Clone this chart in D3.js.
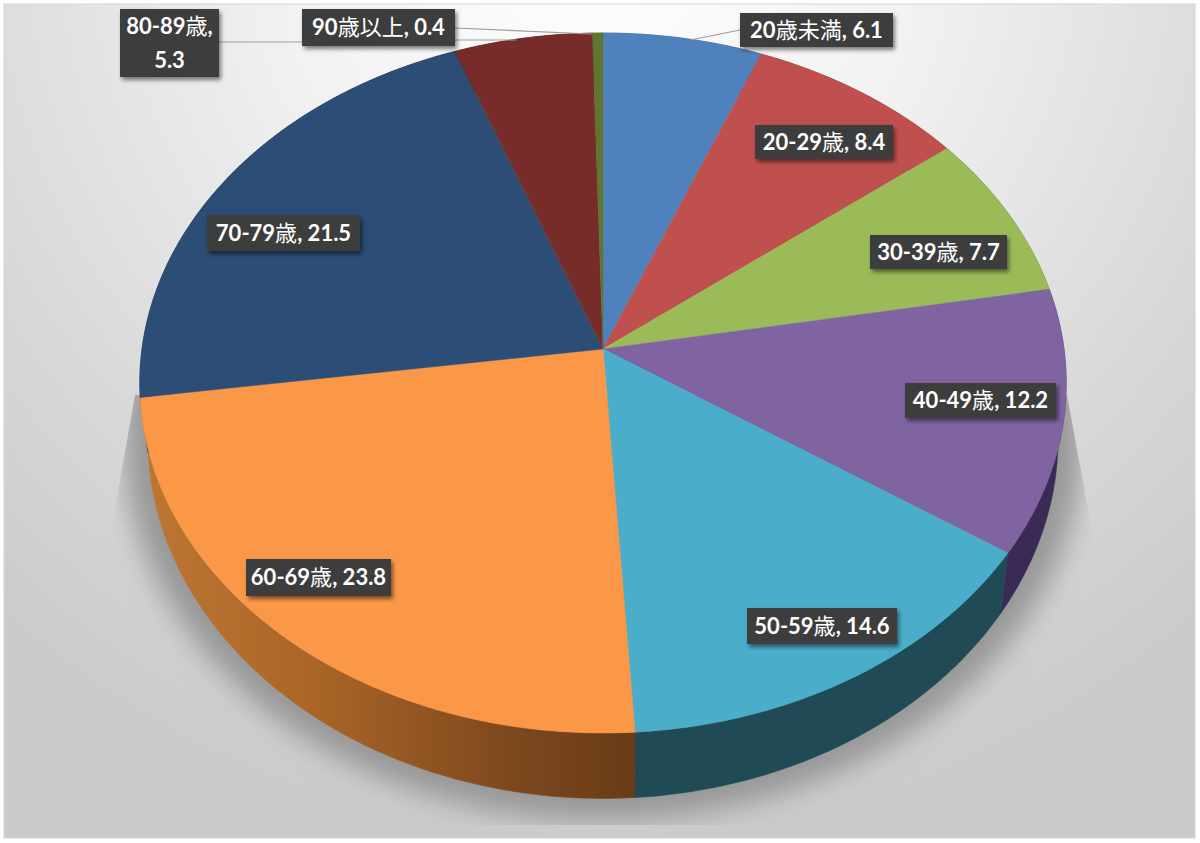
<!DOCTYPE html>
<html>
<head>
<meta charset="utf-8">
<script src="https://cdn.jsdelivr.net/npm/d3@7"></script>
<style>
  html, body { margin: 0; padding: 0; background: #fff; }
  svg { display: block; }
  text { font-family: Lato, "Noto Sans CJK JP", sans-serif; fill: #fff; font-size: 22px; }
</style>
</head>
<body>
<svg id="chart" width="1200" height="843"></svg>
<script>
// Age bands and their share of the total, in percent.
const categories = ["20歳未満", "20-29歳", "30-39歳", "40-49歳", "50-59歳", "60-69歳", "70-79歳", "80-89歳", "90歳以上"];
const values = [6.1, 8.4, 7.7, 12.2, 14.6, 23.8, 21.5, 5.3, 0.4];

// Top-face fill and side-wall fill of each slice.
const topColors = ["#4f81bd", "#c0504d", "#9bbb59", "#8064a2", "#4aaecb", "#fb9848", "#2c4d75", "#772c2a", "#5f7530"];
const wallColors = ["#2c4a6e", "#6f2d2b", "#586b33", "#3b2a55", "#1f4a56", "url(#orangeWall)", "#1a2d45", "#451a18", "#37441c"];

// Label boxes: [left, top, right, bottom] in page pixels.
const labelBoxes = [
  [740, 13, 893, 47], [755, 125, 893, 159], [870, 235, 1007, 269],
  [905, 383, 1056, 418], [747, 608, 897, 644], [246, 559, 391, 596],
  [207, 215, 360, 251], [120, 9, 219, 77], [302, 9, 455, 46]
];

// Leader lines run from a label to the rim of its slice.
const leaders = [
  [[740, 30], [690, 40]],
  [[219, 42], [302, 42]],
  [[455, 40], [516, 40]],
  [[455, 28], [592, 34]]
];

const svg = d3.select("#chart");
const defs = svg.append("defs");

// The pie is a unit disc seen in perspective: k tilts the near side towards the viewer.
const apex = { x: 603, y: 349 };
const k = 0.0972;
const topFace = { rx: 461, ry: 346.7, cy: apex.y };
const baseFace = { rx: 453, ry: 357, cy: 403 };

function project(angle, face) {
  const u = Math.sin(angle), v = -Math.cos(angle), w = 1 - k * v;
  return [apex.x + face.rx * u / w, face.cy + face.ry * v / w];
}
function rim(a0, a1, face) {
  const steps = Math.max(2, Math.ceil((a1 - a0) / 0.01));
  return d3.range(steps + 1).map(i => project(a0 + (a1 - a0) * i / steps, face));
}
const line = d3.line();

const slices = d3.pie().sort(null).value(d => d)(values);

// Sheet background, brightest at the top centre.
const bg = defs.append("radialGradient").attr("id", "sheet")
  .attr("gradientUnits", "userSpaceOnUse")
  .attr("cx", 600).attr("cy", -60).attr("r", 900);
bg.append("stop").attr("offset", 0).attr("stop-color", "#ffffff");
bg.append("stop").attr("offset", 0.35).attr("stop-color", "#f2f2f2");
bg.append("stop").attr("offset", 0.75).attr("stop-color", "#d8d8d8");
bg.append("stop").attr("offset", 1).attr("stop-color", "#cbcbcb");

const wall = defs.append("linearGradient").attr("id", "orangeWall")
  .attr("gradientUnits", "userSpaceOnUse")
  .attr("x1", 150).attr("y1", 0).attr("x2", 634).attr("y2", 0);
wall.append("stop").attr("offset", 0).attr("stop-color", "#bd7632");
wall.append("stop").attr("offset", 0.35).attr("stop-color", "#a96427");
wall.append("stop").attr("offset", 0.75).attr("stop-color", "#7d481e");
wall.append("stop").attr("offset", 1).attr("stop-color", "#693b16");

const blur = defs.append("filter").attr("id", "floorBlur")
  .attr("x", "-10%").attr("y", "-10%").attr("width", "120%").attr("height", "120%");
blur.append("feGaussianBlur").attr("stdDeviation", 14);

const boxShadow = defs.append("filter").attr("id", "boxShadow")
  .attr("x", "-10%").attr("y", "-20%").attr("width", "125%").attr("height", "145%");
boxShadow.append("feDropShadow").attr("dx", 2).attr("dy", 3).attr("stdDeviation", 2.2)
  .attr("flood-color", "#000").attr("flood-opacity", 0.5);

defs.append("clipPath").attr("id", "floorClip").append("path")
  .attr("d", "M135,395 L113,520 L90,600 L90,825 L1110,825 L1110,600 L1090,520 L1067,395 Z");

svg.append("rect").attr("x", 4).attr("y", 4).attr("width", 1191).attr("height", 834)
  .attr("fill", "url(#sheet)").attr("stroke", "#d4d4d4").attr("stroke-width", 1);

// Soft shadow on the floor under the pie.
const floorFace = { rx: baseFace.rx + 24, ry: baseFace.ry + 20, cy: baseFace.cy };
svg.append("g").attr("clip-path", "url(#floorClip)")
  .append("path")
  .attr("d", line(rim(0, 2 * Math.PI, floorFace)) + "Z")
  .attr("fill", "#979797")
  .attr("filter", "url(#floorBlur)");

// Side walls, then the top face over them.
svg.append("g").selectAll("path").data(slices).join("path")
  .attr("d", d => line(rim(d.startAngle, d.endAngle, topFace)
    .concat(rim(d.startAngle, d.endAngle, baseFace).reverse())) + "Z")
  .attr("fill", (d, i) => wallColors[i])
  .attr("stroke", (d, i) => wallColors[i])
  .attr("stroke-width", 0.5);

svg.append("g").selectAll("path").data(slices).join("path")
  .attr("d", d => line([[apex.x, apex.y]].concat(rim(d.startAngle, d.endAngle, topFace))) + "Z")
  .attr("fill", (d, i) => topColors[i])
  .attr("stroke", (d, i) => topColors[i])
  .attr("stroke-width", 0.5);

svg.append("g").selectAll("path").data(leaders).join("path")
  .attr("d", d => line(d)).attr("fill", "none")
  .attr("stroke", "#9c9c9c").attr("stroke-width", 1.2);

// Data labels; CJK runs are set lighter than the Latin digits.
function addRuns(textSel, str) {
  (str.match(/[\u3000-\u9fff]+|[^\u3000-\u9fff]+/g) || []).forEach(run => {
    textSel.append("tspan").text(run)
      .attr("font-weight", /[\u3000-\u9fff]/.test(run) ? 400 : 700);
  });
}
const labels = svg.append("g").selectAll("g").data(categories).join("g");
labels.append("rect")
  .attr("x", (d, i) => labelBoxes[i][0]).attr("y", (d, i) => labelBoxes[i][1])
  .attr("width", (d, i) => labelBoxes[i][2] - labelBoxes[i][0])
  .attr("height", (d, i) => labelBoxes[i][3] - labelBoxes[i][1])
  .attr("fill", "#3d3d3d").attr("filter", "url(#boxShadow)");
labels.each(function (d, i) {
  const [x0, y0, x1, y1] = labelBoxes[i];
  const cx = (x0 + x1) / 2;
  const g = d3.select(this);
  // The narrow box at the far left breaks its label over two lines.
  const lines = (x1 - x0) < 110 ? [d + ",", String(values[i])] : [d + ", " + values[i]];
  const step = (y1 - y0) / lines.length;
  lines.forEach((str, n) => {
    const t = g.append("text").attr("x", cx).attr("y", y0 + step * (n + 0.5) + 7.5)
      .attr("text-anchor", "middle");
    addRuns(t, str);
  });
});
</script>
</body>
</html>
